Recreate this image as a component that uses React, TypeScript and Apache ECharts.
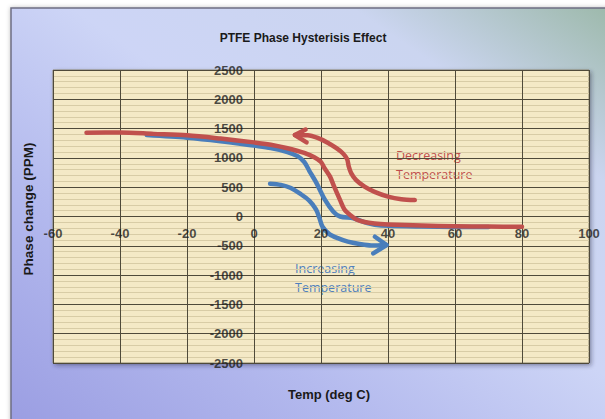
import React, { useEffect, useRef } from "react";
import * as echarts from "echarts";

const titleText = "PTFE Phase Hysterisis Effect";
const xAxisName = "Temp (deg C)";
const yAxisName = "Phase change (PPM)";

// Tick labels (drawn on the zero lines, as in the reference)
const xTickValues = [-60, -40, -20, 0, 20, 40, 60, 80, 100];
const yTickValues = [2500, 2000, 1500, 1000, 500, 0, -500, -1000, -1500, -2000, -2500];

// Decreasing-temperature curve (red)
const decreasingX = [-50, -40, -30, -20, -10, 0, 5, 10, 15, 18, 20, 21, 22.7, 24, 25.7, 27, 28.7, 30.6, 33, 36, 40, 50, 60, 70, 80];
const decreasingY = [1430, 1435, 1410, 1385, 1330, 1265, 1225, 1165, 1085, 1010, 930, 830, 680, 500, 280, 120, 26, -50, -95, -120, -135, -155, -165, -172, -175];

// Increasing-temperature curve (blue)
const increasingX = [-32, -20, -10, 0, 5, 10, 13, 15, 16.5, 18.7, 21.2, 23.7, 25.7, 29.7, 33.6, 36, 40, 50, 60, 70];
const increasingY = [1390, 1345, 1285, 1210, 1170, 1100, 1030, 930, 780, 566, 282, 82, 0, -30, -110, -140, -160, -172, -178, -180];

// Annotation arrows
const redArrowX = [48, 44, 40, 36, 33, 30.5, 29, 28.3, 27.8, 26.5, 24.5, 22, 19, 16, 12.2];
const redArrowY = [280, 295, 340, 420, 510, 620, 740, 850, 980, 1080, 1170, 1260, 1340, 1385, 1390];
const redHeadX = [15.4, 12.2, 15.7];
const redHeadY = [1485, 1390, 1265];

const blueArrowX = [4.8, 8, 11, 14, 16.5, 18.5, 19.5, 20.5, 22.5, 25, 28, 31.5, 35, 39.5];
const blueArrowY = [560, 540, 485, 380, 270, 120, -20, -180, -300, -370, -430, -470, -495, -486];
const blueHeadX = [36.1, 39.6, 35.6];
const blueHeadY = [-345, -486, -628];

const RED = "#c0504d";
const BLUE = "#4a7ebb";

const zip = (xs: number[], ys: number[]) => xs.map((x, i) => [x, ys[i]]);

export default function App() {
  const ref = useRef<HTMLDivElement>(null);
  useEffect(() => {
    if (!ref.current) return;
    const chart = echarts.init(ref.current, undefined, { renderer: "svg" });
    const lineSeries = (data: number[][], color: string, smooth: number | boolean, z = 3) => ({
      type: "line",
      data,
      smooth,
      symbol: "none",
      z,
      lineStyle: { color, width: 4.5, cap: "round", join: "round" },
      silent: true,
    });
    const labelFont = {
      fontFamily: "Liberation Sans, Arial, sans-serif",
      fontWeight: "bold",
      fontSize: 13,
      color: "#1e1e1e",
    };
    chart.setOption({
      animation: false,
      backgroundColor: "#ffffff",
      title: {
        text: titleText,
        left: 298,
        top: 27,
        textAlign: "center",
        textStyle: {
          fontFamily: "Liberation Sans, Arial, sans-serif",
          fontWeight: "bold",
          fontSize: 12,
          color: "#1a1a1a",
        },
      },
      graphic: [
        {
          type: "rect",
          z: -100,
          silent: true,
          shape: { x: 11, y: 8, width: 610, height: 420 },
          style: {
            fill: new echarts.graphic.LinearGradient(0, 1, 1, 0, [
              { offset: 0, color: "#9a9de2" },
              { offset: 0.3, color: "#b4baee" },
              { offset: 0.55, color: "#cdd5f6" },
              { offset: 0.78, color: "#cbd5f0" },
              { offset: 1, color: "#9bb8a8" },
            ]),
            stroke: "#6d6d82",
            lineWidth: 1.5,
            shadowBlur: 4,
            shadowColor: "rgba(0,0,0,0.25)",
          },
        },
        {
          type: "text",
          x: 329,
          y: 394,
          silent: true,
          style: {
            text: xAxisName,
            align: "center",
            verticalAlign: "middle",
            fontFamily: "Liberation Sans, Arial, sans-serif",
            fontWeight: "bold",
            fontSize: 13,
            fill: "#1a1a1a",
          },
        },
        {
          type: "text",
          x: 28,
          y: 209,
          rotation: Math.PI / 2,
          silent: true,
          style: {
            text: yAxisName,
            align: "center",
            verticalAlign: "middle",
            fontFamily: "Liberation Sans, Arial, sans-serif",
            fontWeight: "bold",
            fontSize: 13.5,
            fill: "#1a1a1a",
          },
        },
        {
          type: "text",
          x: 396,
          y: 165,
          silent: true,
          style: {
            text: "Decreasing\nTemperature",
            align: "left",
            verticalAlign: "middle",
            lineHeight: 19,
            fontFamily: "Open Sans, sans-serif",
            fontSize: 12.5,
            fill: "#bf4f4c",
          },
        },
        {
          type: "text",
          x: 295,
          y: 278,
          silent: true,
          style: {
            text: "Increasing\nTemperature",
            align: "left",
            verticalAlign: "middle",
            lineHeight: 19,
            fontFamily: "Open Sans, sans-serif",
            fontSize: 12.5,
            fill: "#4f7fbd",
          },
        },
      ],
      grid: {
        left: 53,
        top: 70,
        width: 536,
        height: 293,
        show: true,
        backgroundColor: "#f4e9c6",
        borderColor: "#8a8470",
        borderWidth: 1,
        shadowColor: "rgba(40,40,60,0.45)",
        shadowBlur: 4,
        shadowOffsetX: 2,
        shadowOffsetY: 2,
      },
      xAxis: {
        type: "value",
        min: -60,
        max: 100,
        interval: 20,
        axisLine: { show: false },
        axisTick: { show: false },
        axisLabel: { show: false },
        splitLine: { show: true, lineStyle: { color: "#4f4a3a", width: 1 } },
      },
      yAxis: {
        type: "value",
        min: -2500,
        max: 2500,
        interval: 500,
        axisLine: { show: false },
        axisTick: { show: false },
        axisLabel: { show: false },
        splitLine: { show: true, lineStyle: { color: "#4f4a3a", width: 1 } },
        minorTick: { show: false, splitNumber: 5 },
        minorSplitLine: { show: true, lineStyle: { color: "#d8cca6", width: 1 } },
      },
      series: [
        lineSeries(zip(increasingX, increasingY), BLUE, 0.3, 3),
        lineSeries(zip(decreasingX, decreasingY), RED, 0.3, 4),
        lineSeries(zip(redArrowX, redArrowY), RED, 0.3, 4),
        lineSeries(zip(redHeadX, redHeadY), RED, false, 4),
        lineSeries(zip(blueArrowX, blueArrowY), BLUE, 0.3, 3),
        lineSeries(zip(blueHeadX, blueHeadY), BLUE, false, 3),
        {
          type: "scatter",
          silent: true,
          z: 6,
          symbolSize: 0,
          data: xTickValues.map((v) => [v, 0]),
          label: {
            show: true,
            position: "bottom",
            distance: 10,
            formatter: (p: any) => String(p.value[0]),
            ...labelFont,
          },
        },
        {
          type: "scatter",
          silent: true,
          z: 6,
          symbolSize: 0,
          data: yTickValues.map((v) => [0, v]),
          label: {
            show: true,
            position: "left",
            distance: 11,
            align: "right",
            formatter: (p: any) => String(p.value[1]),
            ...labelFont,
          },
        },
      ],
    });
    return () => chart.dispose();
  }, []);
  return (
    <div
      ref={ref}
      style={{ position: "fixed", left: 0, top: 0, width: 605, height: 419 }}
    />
  );
}
